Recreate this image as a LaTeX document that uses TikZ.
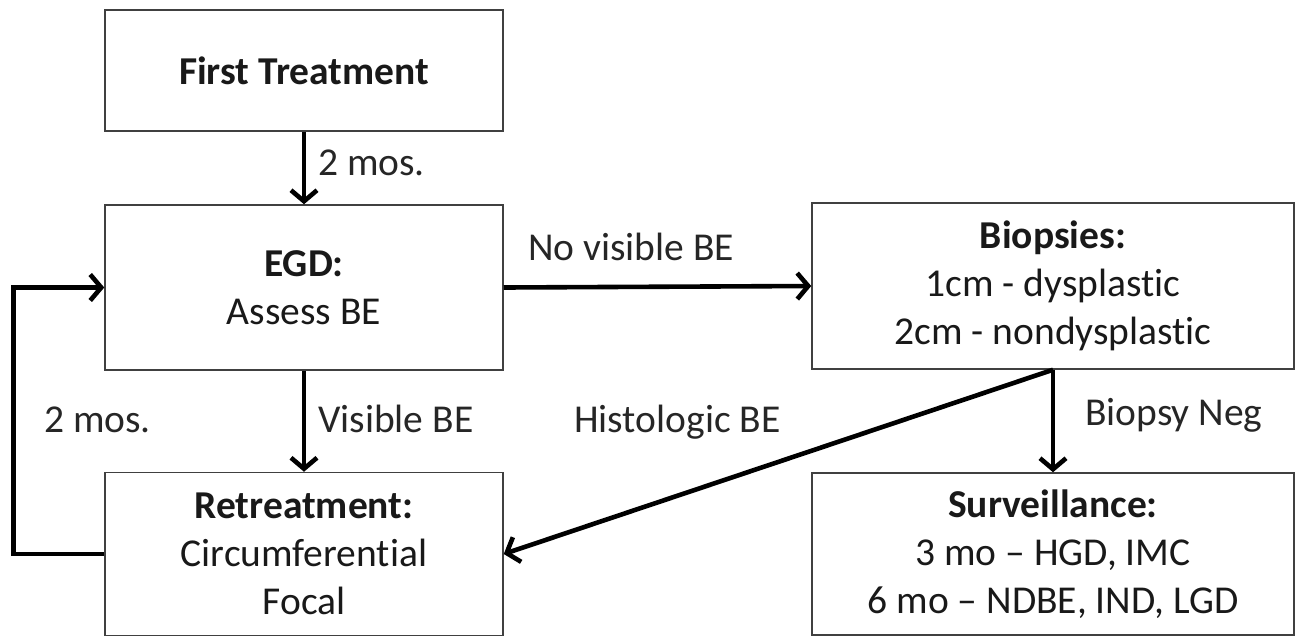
\documentclass[tikz,border=0pt]{standalone}
\usepackage{fontspec}
\setmainfont[Ligatures=NoCommon]{Carlito}
\usetikzlibrary{arrows.meta}
\begin{document}
\begin{tikzpicture}[x=1pt,y=-1pt,
  box/.style={draw=black!75, line width=1.5pt, inner sep=0pt, align=center,
    font=\fontsize{39.5}{48}\selectfont, text=black!90},
  conn/.style={line width=4.6pt, line join=miter, -{Straight Barb[length=11pt,width=26pt]}},
  lbl/.style={font=\fontsize{39.5}{48}\selectfont, text=black!85, inner sep=0pt, anchor=base west}]
\useasboundingbox (0,0) rectangle (1300,638);
\node[box, minimum width=398pt, minimum height=121pt] (first) at (304,70.5) {\textbf{First Treatment}};
\node[box, minimum width=398pt, minimum height=165pt] (egd) at (304,287.5) {\textbf{EGD:}\\Assess BE};
\node[box, minimum width=398pt, minimum height=163pt] (retreat) at (304,554) {\textbf{Retreatment:}\\Circumferential\\Focal};
\node[box, minimum width=482pt, minimum height=166pt] (biop) at (1053,286) {\textbf{Biopsies:}\\1cm - dysplastic\\2cm - nondysplastic};
\node[box, minimum width=482pt, minimum height=162pt] (surv) at (1053,554) {\textbf{Surveillance:}\\3 mo -- HGD, IMC\\6 mo -- NDBE, IND, LGD};

\draw[conn] (first) -- (egd);
\draw[conn] (egd) -- (retreat);
\draw[conn] (egd.east) -- (biop.west);
\draw[conn] (biop.south) -- (surv.north);
\draw[conn] (biop.south) -- (retreat.east);
\draw[conn] (retreat.west) -- ++(-91,0) |- (egd.west);

\node[lbl] (l1) at (318,175) {2 mos.};
\node[lbl] (l2) at (318,432) {Visible BE};
\node[lbl] (l3) at (44,432) {2 mos.};
\node[lbl] (l4) at (574,432) {Histologic BE};
\node[lbl] (l5) at (1085,425) {Biopsy Neg};
\node[lbl] (l6) at (528,260) {No visible BE};
\end{tikzpicture}
\end{document}
